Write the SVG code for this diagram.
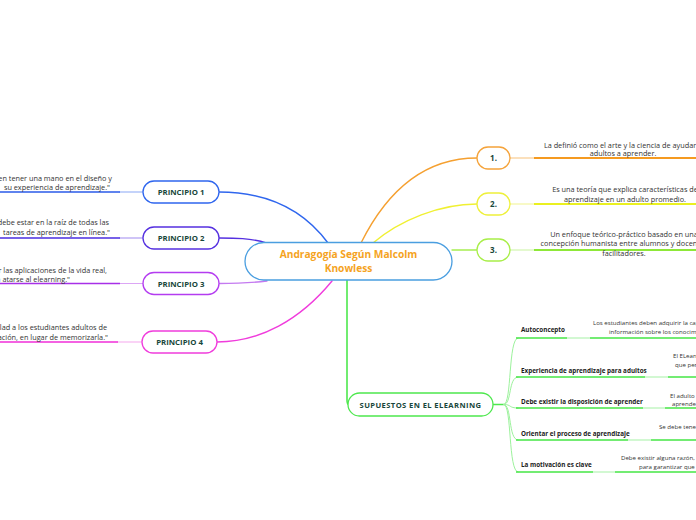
<svg xmlns="http://www.w3.org/2000/svg" width="696" height="520" viewBox="0 0 696 520">
<style>
.bg{fill:#ffffff}
.node{fill:#ffffff;stroke-width:1.3}
.lbl{font-family:"Open Sans","Noto Sans",sans-serif;font-weight:bold;fill:#17463a;text-anchor:middle}
.txt{font-family:"Open Sans","Noto Sans",sans-serif;fill:#333333;font-size:7.3px}
.sm{font-family:"Open Sans","Noto Sans",sans-serif;fill:#333333;font-size:6.1px}
.sub{font-family:"Open Sans","Noto Sans",sans-serif;font-weight:bold;fill:#1c1c1c;font-size:6.3px}
.c{fill:none;stroke-linecap:round}
</style>
<rect class="bg" x="0" y="0" width="696" height="520"/>
<g id="connectors">
  <path class="c" d="M328,243 C300,205 260,192 219,192" stroke="#2f66ee" stroke-width="1.4"/>
  <path class="c" d="M267,243 C250,238 235,238 219,238" stroke="#5530e0" stroke-width="1.3"/>
  <path class="c" d="M267,281 C250,283 235,283.5 219,283.5" stroke="#c47af0" stroke-width="1.3"/>
  <path class="c" d="M332,281 C300,320 260,342 217,342" stroke="#f03cdc" stroke-width="1.4"/>
  <path class="c" d="M120,192 L143,192" stroke="#8aa8f5" stroke-width="1.2"/>
  <path d="M0,192 L120,192" stroke="#2a5ae8" stroke-width="1.6"/>
  <path class="c" d="M120,238 L143,238" stroke="#a08af0" stroke-width="1.2"/>
  <path d="M0,238 L120,238" stroke="#4a2ce0" stroke-width="1.6"/>
  <path class="c" d="M120,283.5 L143,283.5" stroke="#dca6f5" stroke-width="1.2"/>
  <path d="M0,283.5 L120,283.5" stroke="#a830e8" stroke-width="1.6"/>
  <path class="c" d="M118,342 L142,342" stroke="#f5a8ee" stroke-width="1.2"/>
  <path d="M0,342 L118,342" stroke="#f02ed8" stroke-width="1.6"/>
  <path class="c" d="M361,243 C390,185 430,158 477,158" stroke="#f5a030" stroke-width="1.4"/>
  <path class="c" d="M373,243 C400,220 440,204 477,204" stroke="#f0f032" stroke-width="1.4"/>
  <path class="c" d="M452,250 L477,250" stroke="#a6ee50" stroke-width="1.4"/>
  <path d="M510,158 L534,158" stroke="#f8cc90" stroke-width="1.2"/>
  <path d="M534,158 L696,158" stroke="#f59a20" stroke-width="1.8"/>
  <path d="M510,204 L534,204" stroke="#f4f6a0" stroke-width="1.2"/>
  <path d="M534,204 L696,204" stroke="#eaf020" stroke-width="1.8"/>
  <path d="M510,250 L534,250" stroke="#d2f6b0" stroke-width="1.2"/>
  <path d="M534,250 L696,250" stroke="#8ee838" stroke-width="1.8"/>
  <path class="c" d="M347,280 L347,400 Q347,404.5 349,404.5" stroke="#4ee84e" stroke-width="1.6"/>
  <path class="c" d="M493,404.5 L504,404.5" stroke="#4ee84e" stroke-width="1.6"/>
  <path class="c" d="M504,404.5 C512,404.5 508,338 518,338" stroke="#9cf29c" stroke-width="1"/>
  <path class="c" d="M504,404.5 C512,404.5 508,377 518,377" stroke="#9cf29c" stroke-width="1"/>
  <path class="c" d="M504,404.5 C512,404.5 508,408 518,408" stroke="#9cf29c" stroke-width="1"/>
  <path class="c" d="M504,404.5 C512,404.5 508,440 518,440" stroke="#9cf29c" stroke-width="1"/>
  <path class="c" d="M504,404.5 C512,404.5 508,472 518,472" stroke="#9cf29c" stroke-width="1"/>
  <path d="M516,338 L567,338 M590,338 L696,338" stroke="#46e646" stroke-width="1.6"/>
  <path d="M567,338 L590,338" stroke="#b4f4b4" stroke-width="1.2"/>
  <path d="M516,377 L645,377 M668,377 L696,377" stroke="#46e646" stroke-width="1.6"/>
  <path d="M645,377 L668,377" stroke="#b4f4b4" stroke-width="1.2"/>
  <path d="M516,408 L643,408 M665,408 L696,408" stroke="#46e646" stroke-width="1.6"/>
  <path d="M643,408 L665,408" stroke="#b4f4b4" stroke-width="1.2"/>
  <path d="M516,440 L628,440 M651,440 L696,440" stroke="#46e646" stroke-width="1.6"/>
  <path d="M628,440 L651,440" stroke="#b4f4b4" stroke-width="1.2"/>
  <path d="M516,472 L593,472 M615,472 L696,472" stroke="#46e646" stroke-width="1.6"/>
  <path d="M593,472 L615,472" stroke="#b4f4b4" stroke-width="1.2"/>
</g>
<g id="center">
  <rect class="node" x="245" y="242.5" width="207" height="37.5" rx="18.75" stroke="#4a9ee0"/>
  <text class="lbl" x="348.5" y="258" font-size="10.2" style="fill:#f5a31e">Andragogía Según Malcolm</text>
  <text class="lbl" x="348.5" y="272" font-size="10.2" style="fill:#f5a31e">Knowless</text>
</g>
<g id="principio1">
  <rect class="node" x="143" y="181" width="76" height="22" rx="11" stroke="#2f66ee"/>
  <text class="lbl" x="181" y="195" font-size="7.8">PRINCIPIO 1</text>
  <text class="txt" x="112" y="180.5" text-anchor="end">en tener una mano en el diseño y</text>
  <text class="txt" x="110" y="190" text-anchor="end">su experiencia de aprendizaje."</text>
</g>
<g id="principio2">
  <rect class="node" x="143" y="227" width="76" height="22" rx="11" stroke="#5530e0"/>
  <text class="lbl" x="181" y="241" font-size="7.8">PRINCIPIO 2</text>
  <text class="txt" x="109" y="225" text-anchor="end">debe estar en la raíz de todas las</text>
  <text class="txt" x="110" y="235" text-anchor="end"> tareas de aprendizaje en línea."</text>
</g>
<g id="principio3">
  <rect class="node" x="143" y="272.5" width="76" height="22" rx="11" stroke="#b43cf0"/>
  <text class="lbl" x="181" y="286.5" font-size="7.8">PRINCIPIO 3</text>
  <text class="txt" x="107" y="272.5" text-anchor="end">r las aplicaciones de la vida real,</text>
  <text class="txt" x="70" y="281.5" text-anchor="end">n atarse al elearning."</text>
</g>
<g id="principio4">
  <rect class="node" x="142" y="331" width="75" height="22" rx="11" stroke="#f03cdc"/>
  <text class="lbl" x="179.5" y="345" font-size="7.8">PRINCIPIO 4</text>
  <text class="txt" x="107" y="330" text-anchor="end">lad a los estudiantes adultos de</text>
  <text class="txt" x="108" y="339.5" text-anchor="end">ación, en lugar de memorizarla."</text>
</g>
<g id="n1">
  <rect class="node" x="477" y="147" width="33" height="22" rx="11" stroke="#f5a33a"/>
  <text class="lbl" x="493.5" y="161" font-size="8">1.</text>
  <text class="txt" x="623" y="147.5" text-anchor="middle">La definió como el arte y la ciencia de ayudar a</text>
  <text class="txt" x="623" y="156" text-anchor="middle">adultos a aprender.</text>
</g>
<g id="n2">
  <rect class="node" x="477" y="193" width="33" height="22" rx="11" stroke="#eef03a"/>
  <text class="lbl" x="493.5" y="207" font-size="8">2.</text>
  <text class="txt" x="625" y="192" text-anchor="middle">Es una teoría que explica características de</text>
  <text class="txt" x="625" y="201.5" text-anchor="middle">aprendizaje en un adulto promedio.</text>
</g>
<g id="n3">
  <rect class="node" x="477" y="239" width="33" height="22" rx="11" stroke="#a8ee48"/>
  <text class="lbl" x="493.5" y="253" font-size="8">3.</text>
  <text class="txt" x="624" y="237" text-anchor="middle">Un enfoque teórico-práctico  basado en una</text>
  <text class="txt" x="624" y="246" text-anchor="middle">concepción humanista entre alumnos y docentes</text>
  <text class="txt" x="624" y="256" text-anchor="middle">facilitadores.</text>
</g>
<g id="supuestos">
  <rect class="node" x="348" y="393" width="145" height="23" rx="11.5" stroke="#4ee84e"/>
  <text class="lbl" x="420.5" y="407.5" font-size="7.6" letter-spacing="0.4">SUPUESTOS EN EL ELEARNING</text>
</g>
<g id="autoconcepto">
  <text class="sub" x="521" y="332">Autoconcepto</text>
  <text class="sm" x="593" y="325">Los estudiantes deben adquirir la cap</text>
  <text class="sm" x="609" y="334">información sobre los conocimi</text>
</g>
<g id="experiencia">
  <text class="sub" x="521" y="373">Experiencia de aprendizaje para adultos</text>
  <text class="sm" x="673" y="358">El ELearn</text>
  <text class="sm" x="675" y="367">que per</text>
</g>
<g id="disposicion">
  <text class="sub" x="521" y="403.5">Debe existir la disposición de aprender</text>
  <text class="sm" x="670" y="397.5">El adulto</text>
  <text class="sm" x="672" y="406">aprender</text>
</g>
<g id="orientar">
  <text class="sub" x="521" y="435.5">Orientar el proceso de aprendizaje</text>
  <text class="sm" x="659" y="428.5">Se debe tener</text>
</g>
<g id="motivacion">
  <text class="sub" x="521" y="466.5">La motivación es clave</text>
  <text class="sm" x="621" y="459.5">Debe existir alguna razón,</text>
  <text class="sm" x="639" y="468.5">para garantizar que</text>
</g>
</svg>
